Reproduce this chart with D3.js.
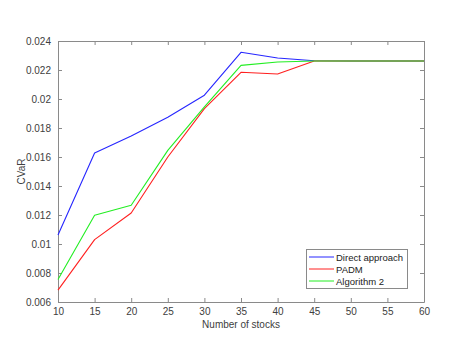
<!DOCTYPE html>
<html><head><meta charset="utf-8">
<script src="https://cdn.jsdelivr.net/npm/d3@7"></script>
<style>body{margin:0;background:#fff;}svg{display:block;}</style>
</head><body>
<svg id="c" width="458" height="340"></svg>
<script>
const stocks = [10, 15, 20, 25, 30, 35, 40, 45, 50, 55, 60];
const directApproach = [0.01062, 0.01628, 0.01745, 0.01874, 0.02026, 0.02322, 0.02283, 0.02264, 0.02262, 0.02262, 0.02262];
const padm = [0.00682, 0.01030, 0.01214, 0.01600, 0.01934, 0.02184, 0.02172, 0.02262, 0.02262, 0.02262, 0.02262];
const algorithm2 = [0.00755, 0.01198, 0.01267, 0.01646, 0.01945, 0.02232, 0.02255, 0.02262, 0.02262, 0.02262, 0.02262];
const xTicks = [10, 15, 20, 25, 30, 35, 40, 45, 50, 55, 60];
const yTicks = [0.006, 0.008, 0.01, 0.012, 0.014, 0.016, 0.018, 0.02, 0.022, 0.024];
const yTickLabels = ["0.006", "0.008", "0.01", "0.012", "0.014", "0.016", "0.018", "0.02", "0.022", "0.024"];
const seriesNames = ["Direct approach", "PADM", "Algorithm 2"];
const seriesColors = ["#2626ff", "#ff2020", "#22ee22"];

const L = 58, R = 424, T = 41, B = 302;
const svg = d3.select("#c");
const font = "'Liberation Sans', Arial, Helvetica, sans-serif";
const axisCol = "#8a8a8a", textCol = "#404040";

const x = d3.scaleLinear().domain([10, 60]).range([L, R]);
const y = d3.scaleLinear().domain([0.006, 0.024]).range([B, T]);

svg.append("rect").attr("x", L).attr("y", T).attr("width", R - L).attr("height", B - T)
  .attr("fill", "#fff").attr("stroke", "none");

function styleAxis(g) {
  g.selectAll("path").attr("stroke", axisCol).attr("stroke-width", 1);
  g.selectAll("line").attr("stroke", axisCol);
  g.selectAll("text").attr("fill", textCol).style("font-family", font).style("font-size", "10px");
}

const xAxis = d3.axisBottom(x).tickValues(xTicks).tickSize(-4).tickSizeOuter(0).tickPadding(6).tickFormat(d3.format("d"));
svg.append("g").attr("transform", `translate(0,${B})`).call(xAxis).call(styleAxis);
const xAxisTop = d3.axisTop(x).tickValues(xTicks).tickSize(-4).tickSizeOuter(0).tickFormat("");
svg.append("g").attr("transform", `translate(0,${T})`).call(xAxisTop).call(styleAxis);

const yAxis = d3.axisLeft(y).tickValues(yTicks).tickSize(-4).tickSizeOuter(0).tickPadding(7)
  .tickFormat((d, i) => yTickLabels[i]);
svg.append("g").attr("transform", `translate(${L},0)`).call(yAxis).call(styleAxis);
const yAxisRight = d3.axisRight(y).tickValues(yTicks).tickSize(-4).tickSizeOuter(0).tickFormat("");
svg.append("g").attr("transform", `translate(${R},0)`).call(yAxisRight).call(styleAxis);

const series = [directApproach, padm, algorithm2];
const line = d3.line().x((d, i) => x(stocks[i])).y(d => y(d));
series.forEach((s, k) => {
  svg.append("path").datum(s).attr("d", line).attr("fill", "none")
    .attr("stroke", seriesColors[k]).attr("stroke-width", 1.1).attr("stroke-linejoin", "round");
});

svg.append("text").attr("x", (L + R) / 2).attr("y", 328).attr("text-anchor", "middle")
  .attr("fill", textCol).style("font-family", font).style("font-size", "10px").text("Number of stocks");
svg.append("text").attr("transform", `translate(24.5,${(T + B) / 2}) rotate(-90)`).attr("text-anchor", "middle")
  .attr("fill", textCol).style("font-family", font).style("font-size", "10px").text("CVaR");

const lg = svg.append("g");
lg.append("rect").attr("x", 306.5).attr("y", 249.5).attr("width", 101).attr("height", 39)
  .attr("fill", "#fff").attr("stroke", axisCol).attr("stroke-width", 1);
seriesNames.forEach((n, i) => {
  const yy = 257 + i * 12;
  lg.append("line").attr("x1", 309).attr("x2", 334).attr("y1", yy).attr("y2", yy)
    .attr("stroke", seriesColors[i]).attr("stroke-width", 1);
  lg.append("text").attr("x", 336).attr("y", yy + 3.5).attr("fill", "#222")
    .style("font-family", font).style("font-size", "9.5px").text(n);
});
</script>
</body></html>
